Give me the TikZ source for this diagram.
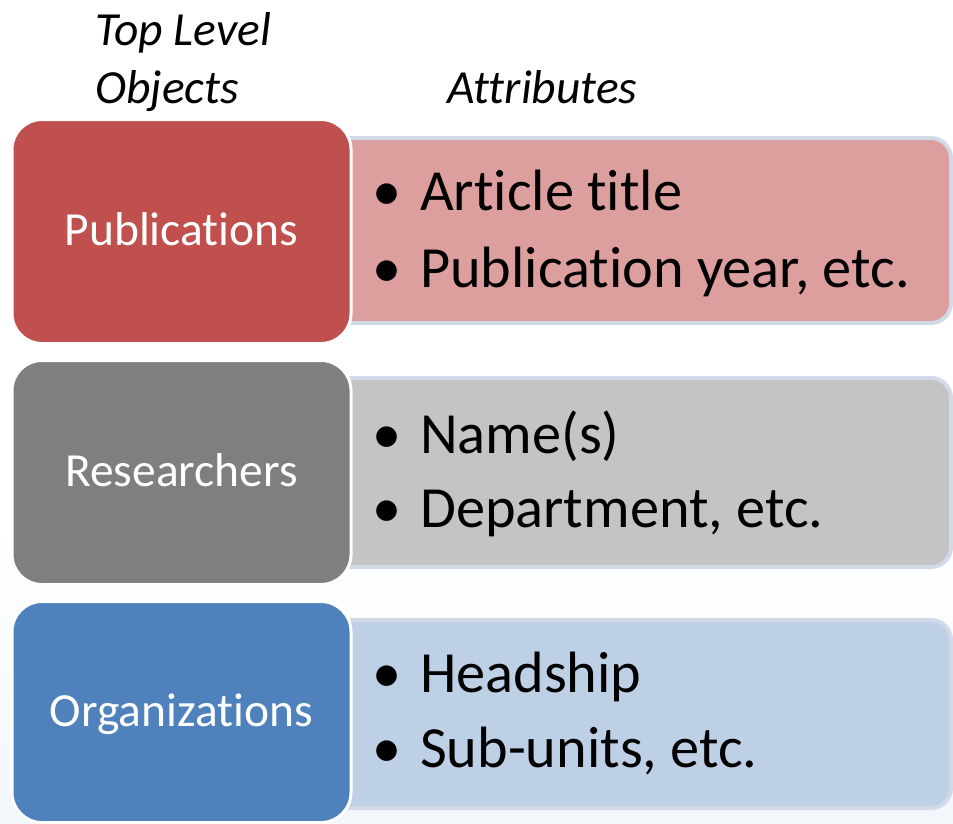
\documentclass[tikz,border=0pt]{standalone}
\usepackage{fontspec}
\setmainfont{Carlito}[Ligatures={NoCommon}]
\usetikzlibrary{shadings}
\definecolor{pubdark}{HTML}{C0504D}
\definecolor{publight}{HTML}{DC9F9E}
\definecolor{resdark}{HTML}{7F7F7F}
\definecolor{reslight}{HTML}{C4C4C4}
\definecolor{orgdark}{HTML}{4F81BD}
\definecolor{orglight}{HTML}{BED0E6}
\definecolor{attrborder}{HTML}{D2DAEA}
\definecolor{bgfade}{HTML}{F2F7FC}
\tikzset{
  mainbox/.style={rectangle, rounded corners=30pt, draw=white, line width=3pt,
    minimum width=339pt, minimum height=224pt, inner sep=0pt},
  attrbox/.style={rectangle, rounded corners=20pt, draw=attrborder, line width=4pt,
    inner sep=0pt},
  maintext/.style={text=white, anchor=base, font=\fontsize{47.5}{56}\selectfont},
  attrtext/.style={text=black, anchor=base west, font=\fontsize{58.3}{68}\selectfont, inner sep=0pt},
  headtext/.style={text=black, anchor=base west, font=\itshape\fontsize{47.5}{56}\selectfont, inner sep=0pt}
}
\newcommand{\bul}{\makebox[48pt][l]{•}}
\begin{document}
\begin{tikzpicture}[x=1pt,y=-1pt]
\useasboundingbox (0,0) rectangle (953,823);
\shade[top color=white, bottom color=bgfade] (0,520) rectangle (953,823);

% headers
\node[headtext] (h1) at (95,45) {Top Level};
\node[headtext] (h2) at (95,103) {Objects};
\node[headtext] (h3) at (447,103) {Attributes};

% attribute boxes
\node[attrbox, fill=publight, minimum width=650pt, minimum height=185pt] (a1) at (626,230.5) {};
\node[attrbox, fill=reslight, minimum width=650pt, minimum height=189pt] (a2) at (626,472.5) {};
\node[attrbox, fill=orglight, minimum width=650pt, minimum height=188pt] (a3) at (626,714) {};

% main boxes
\node[mainbox, fill=pubdark] (pub) at (181.5,231.5) {};
\node[mainbox, fill=resdark] (res) at (181.5,472.5) {};
\node[mainbox, fill=orgdark, minimum height=221pt] (org) at (181.5,712) {};

\node[maintext] (pubt) at ([yshift=-14pt]pub.center) {Publications};
\node[maintext] (rest) at ([yshift=-14pt]res.center) {Researchers};
\node[maintext] (orgt) at ([yshift=-14pt]org.center) {Organizations};

% attribute texts
\node[attrtext] (p1) at (372,210) {\bul Article title};
\node[attrtext] (p2) at (372,287) {\bul Publication year, etc.};
\node[attrtext] (r1) at (372,453) {\bul Name(s)};
\node[attrtext] (r2) at (372,527) {\bul Department, etc.};
\node[attrtext] (o1) at (372,692) {\bul Headship};
\node[attrtext] (o2) at (372,767) {\bul Sub-units, etc.};
\end{tikzpicture}
\end{document}
